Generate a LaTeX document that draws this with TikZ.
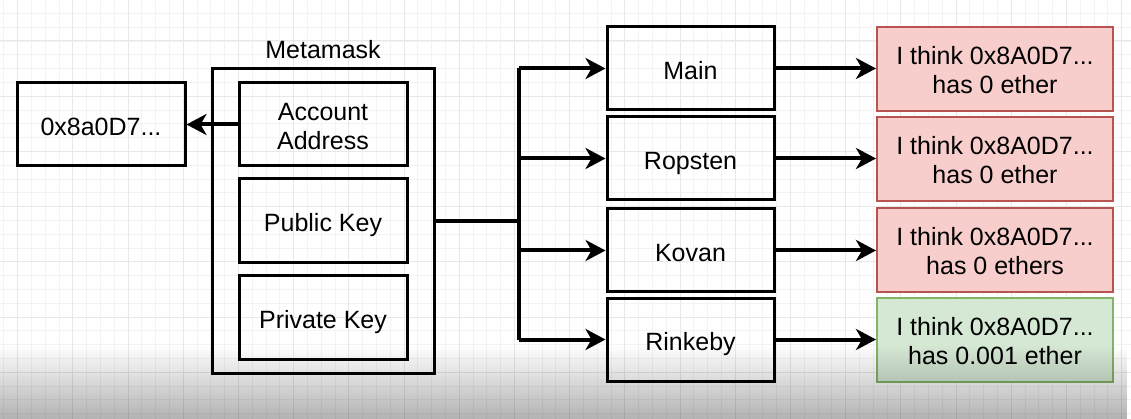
\documentclass[tikz,border=0pt]{standalone}
\usepackage{fontspec}
\setmainfont{Liberation Sans}
\usetikzlibrary{arrows.meta,fadings}
\definecolor{redfill}{HTML}{F8CECC}
\definecolor{redline}{HTML}{B85450}
\definecolor{greenfill}{HTML}{D5E8D4}
\definecolor{greenline}{HTML}{82B366}
\definecolor{gminorc}{HTML}{F3F3F3}
\definecolor{gmajorc}{HTML}{E8E8E8}
\newcommand{\upstrut}{\rule{0pt}{21pt}}
\tikzfading[name=fadeup, top color=transparent!100, bottom color=transparent!0]
\tikzset{
  txt/.style={font=\fontsize{25}{29}\selectfont},
  one/.style={text height=22pt, text depth=0pt},
  box/.style={draw=black, line width=3pt, inner sep=0pt, align=center, txt,
    minimum height=83pt},
  netbox/.style={box, one, minimum width=167pt},
  keybox/.style={box, minimum width=168pt},
  resbox/.style={box, line width=2pt, minimum width=236pt, minimum height=84pt},
  redbox/.style={resbox, draw=redline, fill=redfill},
  greenbox/.style={resbox, draw=greenline, fill=greenfill},
  arr/.style={line width=4pt, -{Stealth[length=20pt,width=21pt,inset=6pt]}},
  conn/.style={line width=4pt},
  gminor/.style={draw=gminorc, line width=0.8pt},
  gmajor/.style={draw=gmajorc, line width=1pt},
}
\begin{document}
\begin{tikzpicture}[x=1pt,y=-1pt]
\useasboundingbox (0,0) rectangle (1131,419);
\fill[white] (0,0) rectangle (1131,419);
% grid
\foreach \i in {0,...,82} \draw[gminor] ({3.8+13.8*\i},0) -- ++(0,419);
\foreach \i in {0,...,31} \draw[gminor] (0,{-0.4+13.8*\i}) -- ++(1131,0);
\foreach \i in {0,...,20} \draw[gmajor] ({17.6+55.2*\i},0) -- ++(0,419);
\foreach \i in {0,...,7} \draw[gmajor] (0,{41+55.2*(\i-1)}) -- ++(1131,0);

% left
\node[keybox, one] (addr) at (101,124.5) {0x8a0D7...};
% metamask
\node[draw=black, line width=3pt, minimum width=222pt, minimum height=304pt, inner sep=0pt] (meta) at (323,221) {};
\node[txt, one, inner sep=0pt] (title) at (323,48) {Metamask};
\node[keybox] (acct) at (323,124.5) {\upstrut Account\\Address};
\node[keybox, one, minimum height=84pt] (pub) at (323,221) {Public Key};
\node[keybox, one] (priv) at (323,317.5) {Private Key};
% networks
\node[netbox] (main) at (690.5,68.5) {Main};
\node[netbox] (rop) at (690.5,158.5) {Ropsten};
\node[netbox] (kov) at (690.5,250.5) {Kovan};
\node[netbox] (rin) at (690.5,339.5) {Rinkeby};
% results
\node[redbox] (r1) at (995,69) {\upstrut I think 0x8A0D7...\\has 0 ether};
\node[redbox] (r2) at (995,159) {\upstrut I think 0x8A0D7...\\has 0 ether};
\node[redbox] (r3) at (995,250) {\upstrut I think 0x8A0D7...\\has 0 ethers};
\node[greenbox] (r4) at (995,340) {\upstrut I think 0x8A0D7...\\has 0.001 ether};

% connectors
\draw[arr] (acct.west) -- (addr.east);
\coordinate (j) at (519,221);
\draw[conn] (meta.east) -- (j);
\draw[conn, line join=miter] (j |- main.west) -- (j |- rin.west);
\draw[arr] (j |- main.west) -- (main.west);
\draw[arr] (j |- rop.west) -- (rop.west);
\draw[arr] (j |- kov.west) -- (kov.west);
\draw[arr] (j |- rin.west) -- (rin.west);
\draw[arr] (main.east) -- (main.east -| r1.west);
\draw[arr] (rop.east) -- (rop.east -| r2.west);
\draw[arr] (kov.east) -- (kov.east -| r3.west);
\draw[arr] (rin.east) -- (rin.east -| r4.west);

% bottom darkening
\fill[black, opacity=0.3, path fading=fadeup] (0,345) rectangle (1131,419);
\end{tikzpicture}
\end{document}
